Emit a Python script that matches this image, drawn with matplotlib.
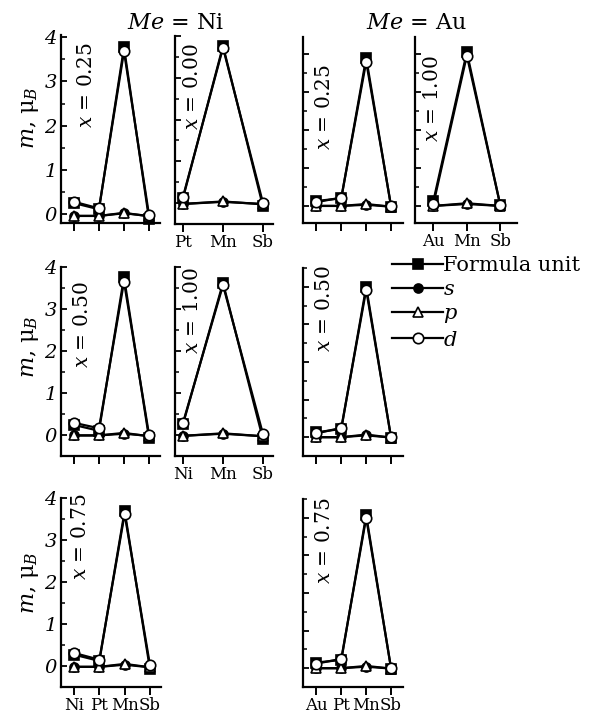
import matplotlib
matplotlib.use("Agg")
import matplotlib.pyplot as plt
from matplotlib.ticker import MultipleLocator, FixedLocator

plt.rcParams["font.family"] = "DejaVu Serif"
plt.rcParams["mathtext.fontset"] = "dejavuserif"

# --- siti atomici ---
sites_ni4 = ["Ni", "Pt", "Mn", "Sb"]
sites_pt3 = ["Pt", "Mn", "Sb"]
sites_ni3 = ["Ni", "Mn", "Sb"]
sites_au4 = ["Au", "Pt", "Mn", "Sb"]
sites_au3 = ["Au", "Mn", "Sb"]

# --- Me = Ni ---
ni025_fu = [0.25, 0.11, 3.77, -0.11]
ni025_s = [-0.04, -0.04, 0.02, -0.04]
ni025_p = [-0.04, -0.04, 0.03, -0.05]
ni025_d = [0.28, 0.13, 3.68, -0.02]

ni000_fu = [0.12, 3.76, -0.08]
ni000_s = [-0.02, 0.03, -0.02]
ni000_p = [-0.02, 0.04, -0.03]
ni000_d = [0.15, 3.72, 0.00]

ni050_fu = [0.24, 0.10, 3.76, -0.07]
ni050_s = [-0.01, -0.01, 0.03, -0.02]
ni050_p = [-0.01, -0.01, 0.05, -0.03]
ni050_d = [0.29, 0.16, 3.65, 0.01]

ni100_fu = [0.26, 3.62, -0.10]
ni100_s = [-0.02, 0.03, -0.03]
ni100_p = [-0.02, 0.04, -0.03]
ni100_d = [0.29, 3.57, 0.02]

ni075_fu = [0.27, 0.12, 3.69, -0.06]
ni075_s = [-0.02, -0.02, 0.03, -0.03]
ni075_p = [-0.02, -0.02, 0.05, -0.03]
ni075_d = [0.31, 0.15, 3.62, 0.03]

# --- Me = Au ---
au025_fu = [0.13, 0.20, 3.90, -0.02]
au025_s = [0.00, 0.00, 0.03, -0.02]
au025_p = [0.00, 0.00, 0.05, -0.02]
au025_d = [0.10, 0.22, 3.80, 0.00]

au100_fu = [0.13, 4.05, 0.02]
au100_s = [0.00, 0.05, 0.00]
au100_p = [0.00, 0.07, 0.00]
au100_d = [0.05, 3.96, 0.02]

au050_fu = [0.13, 0.22, 4.00, -0.02]
au050_s = [0.00, 0.00, 0.05, -0.01]
au050_p = [0.00, 0.00, 0.07, -0.01]
au050_d = [0.10, 0.25, 3.92, 0.00]

au075_fu = [0.15, 0.22, 4.07, -0.01]
au075_s = [0.00, 0.00, 0.04, -0.01]
au075_p = [0.00, 0.00, 0.06, -0.01]
au075_d = [0.12, 0.25, 4.00, 0.00]

W, H = 595, 713
fig = plt.figure(figsize=(W / 100, H / 100), dpi=100)


def box(x0, x1, y0, y1):
    return [x0 / W, 1 - y1 / H, (x1 - x0) / W, (y1 - y0) / H]


def panel(rect, sites, fu, s, p, d, xlim, ylim, xlab=False, ylab=False):
    ax = fig.add_axes(rect)
    xs = list(range(len(sites)))
    kw = dict(color="k", lw=1.6, clip_on=False, mew=1.2)
    ax.plot(xs, fu, marker="s", mfc="k", mec="k", ms=6.5, label="Formula unit", **kw)
    ax.plot(xs, s, marker="o", mfc="k", mec="k", ms=6.5, label="$s$", **kw)
    ax.plot(xs, p, marker="^", mfc="w", mec="k", ms=6.5, label="$p$", **kw)
    ax.plot(xs, d, marker="o", mfc="w", mec="k", ms=7.5, label="$d$", **kw)
    ax.set_xlim(*xlim)
    ax.set_ylim(*ylim)
    for side in ["top", "right"]:
        ax.spines[side].set_visible(False)
    for side in ["left", "bottom"]:
        ax.spines[side].set_linewidth(1.6)
    ax.set_xticks(xs)
    ax.set_xticklabels(sites if xlab else [], fontsize=12)
    ax.yaxis.set_major_locator(FixedLocator([0, 1, 2, 3, 4]))
    ax.yaxis.set_minor_locator(MultipleLocator(0.5))
    ax.tick_params(axis="x", direction="out", length=6, width=1.4, pad=1.5)
    ax.tick_params(axis="y", which="major", direction="in", length=4.5, width=1.3)
    ax.tick_params(axis="y", which="minor", direction="in", length=3, width=1.1)
    if ylab:
        ax.set_yticklabels(["0", "1", "2", "3", "4"], fontsize=14, fontstyle="italic")
        ax.tick_params(axis="y", pad=3)
    else:
        ax.set_yticklabels([])
    return ax


ax1 = panel(box(61, 160, 35, 223), sites_ni4, ni025_fu, ni025_s, ni025_p, ni025_d,
            (-0.52, 3.44), (-0.2, 4.05), ylab=True)
panel(box(175, 273, 36, 224), sites_pt3, ni000_fu, ni000_s, ni000_p, ni000_d,
      (-0.2, 2.25), (-0.5, 4.0), xlab=True)
panel(box(303, 403, 37, 223), sites_au4, au025_fu, au025_s, au025_p, au025_d,
      (-0.54, 3.48), (-0.45, 4.45))
panel(box(415, 517, 37, 223), sites_au3, au100_fu, au100_s, au100_p, au100_d,
      (-0.55, 2.5), (-0.45, 4.45), xlab=True)

panel(box(61, 160, 267, 456), sites_ni4, ni050_fu, ni050_s, ni050_p, ni050_d,
      (-0.52, 3.44), (-0.5, 4.0), ylab=True)
panel(box(175, 273, 267, 456), sites_ni3, ni100_fu, ni100_s, ni100_p, ni100_d,
      (-0.2, 2.25), (-0.5, 4.0), xlab=True)
panel(box(303, 403, 268, 456), sites_au4, au050_fu, au050_s, au050_p, au050_d,
      (-0.54, 3.48), (-0.5, 4.5))

panel(box(61, 161, 498, 687), sites_ni4, ni075_fu, ni075_s, ni075_p, ni075_d,
      (-0.52, 3.44), (-0.5, 4.0), xlab=True, ylab=True)
panel(box(303, 403, 499, 687), sites_au4, au075_fu, au075_s, au075_p, au075_d,
      (-0.54, 3.48), (-0.5, 4.5), xlab=True)


def ftext(x, y, s, **kw):
    fig.text(x / W, 1 - y / H, s, ha="center", va="center", **kw)


# etichette x = ...
ftext(87, 85, "$x$ = 0.25", rotation=90, fontsize=14.5)
ftext(192, 87, "$x$ = 0.00", rotation=90, fontsize=14.5)
ftext(325, 107, "$x$ = 0.25", rotation=90, fontsize=14.5)
ftext(433, 99, "$x$ = 1.00", rotation=90, fontsize=14.5)
ftext(83, 325, "$x$ = 0.50", rotation=90, fontsize=14.5)
ftext(193, 311, "$x$ = 1.00", rotation=90, fontsize=14.5)
ftext(325, 309, "$x$ = 0.50", rotation=90, fontsize=14.5)
ftext(80, 537, "$x$ = 0.75", rotation=90, fontsize=14.5)
ftext(325, 541, "$x$ = 0.75", rotation=90, fontsize=14.5)

# titoli e assi y
ftext(176, 23, "$Me$ = Ni", fontsize=16)
ftext(416, 23, "$Me$ = Au", fontsize=16)
for yc in [118, 347, 583]:
    ftext(30, yc, "$m$, μ$_B$", rotation=90, fontsize=16)

handles, labels = ax1.get_legend_handles_labels()
fig.legend(handles, labels, loc="upper left", bbox_to_anchor=(392 / W, 1 - 256 / H),
           frameon=False, fontsize=15, handlelength=2.45, handletextpad=0.0,
           labelspacing=0.25, borderpad=0, borderaxespad=0)

fig.savefig("out.png", dpi=100)
